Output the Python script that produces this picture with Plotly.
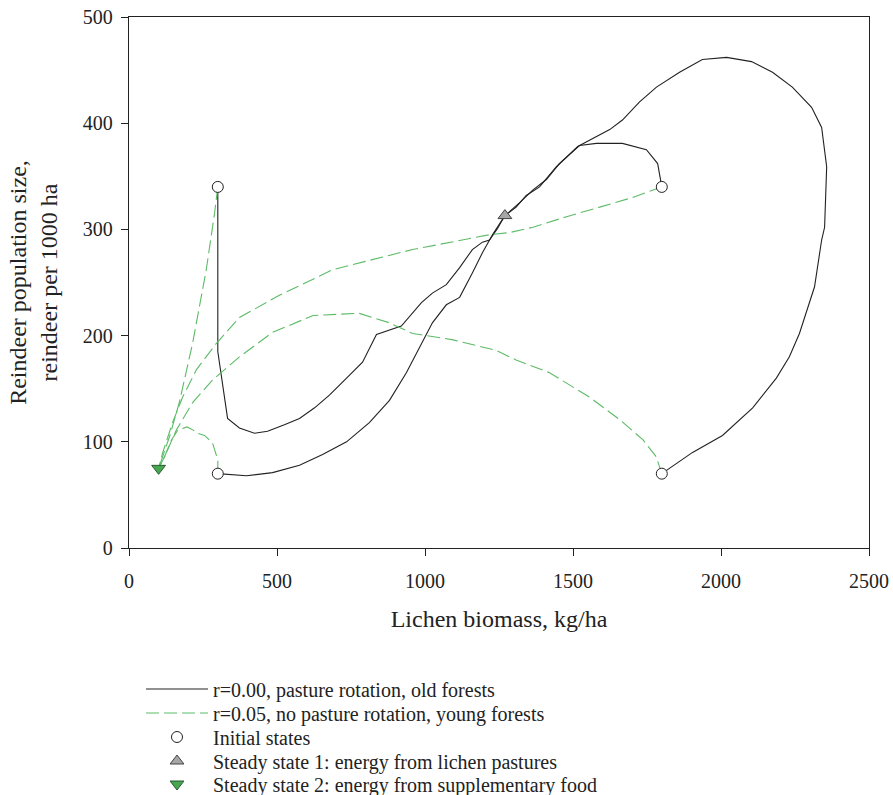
import plotly.graph_objects as go

# ---- data ----
# r=0.00, pasture rotation, old forests (four trajectories)
old1_x = [300, 300, 333, 373, 424, 468, 525, 576, 627, 677, 735, 789, 836, 920, 988, 1025, 1072, 1117, 1160, 1194, 1218, 1245, 1270]
old1_y = [340, 185, 122, 113, 108, 110, 116, 122, 132, 144, 160, 175, 201, 209, 231, 240, 248, 264, 281, 288, 290, 301, 313]
old2_x = [300, 397, 485, 576, 654, 735, 812, 880, 937, 991, 1025, 1072, 1117, 1160, 1194, 1228, 1245, 1270]
old2_y = [70, 68, 71, 78, 88, 100, 118, 139, 165, 193, 212, 229, 236, 259, 278, 295, 302, 313]
old3_x = [1800, 1904, 2005, 2107, 2187, 2231, 2265, 2316, 2340, 2350, 2357, 2340, 2306, 2241, 2174, 2103, 2019, 1937,
          1860, 1782, 1725, 1667, 1624, 1556, 1516, 1444, 1387, 1342, 1308, 1270]
old3_y = [70, 90, 106, 132, 160, 180, 202, 246, 290, 302, 359, 396, 415, 434, 448, 458, 462, 460,
          448, 434, 420, 403, 394, 384, 378, 359, 340, 332, 321, 313]
old4_x = [1800, 1786, 1748, 1667, 1579, 1522, 1454, 1410, 1364, 1319, 1270]
old4_y = [340, 362, 375, 381, 381, 379, 362, 347, 337, 325, 313]

# r=0.05, no pasture rotation, young forests (four trajectories)
young1_x = [300, 289, 261, 215, 170, 137, 110, 100]
young1_y = [340, 315, 262, 193, 137, 105, 83, 75]
young2_x = [1800, 1701, 1590, 1478, 1365, 1285, 1218, 1072, 958, 857, 688, 508, 373, 296, 228, 181, 147, 113, 100]
young2_y = [340, 330, 321, 312, 302, 297, 295, 287, 281, 274, 262, 238, 217, 193, 168, 142, 118, 89, 75]
young3_x = [300, 300, 282, 255, 232, 217, 196, 165, 144, 120, 100]
young3_y = [70, 83, 99, 106, 108, 111, 114, 111, 102, 86, 75]
young4_x = [1800, 1781, 1736, 1657, 1556, 1421, 1308, 1241, 1095, 958, 880, 777, 622, 485, 373, 282, 215, 160, 120, 100]
young4_y = [70, 86, 102, 121, 142, 165, 177, 186, 196, 202, 212, 221, 219, 203, 180, 158, 137, 111, 86, 75]

init_x = [300, 1800, 300, 1800]
init_y = [340, 340, 70, 70]
ss1_x = [1270]
ss1_y = [313]
ss2_x = [100]
ss2_y = [75]

x_ticks = [0, 500, 1000, 1500, 2000, 2500]
y_ticks = [0, 100, 200, 300, 400, 500]

legend_names = [
    "r=0.00, pasture rotation, old forests",
    "r=0.05, no pasture rotation, young forests",
    "Initial states",
    "Steady state 1: energy from lichen pastures",
    "Steady state 2: energy from supplementary food",
]


def join(*curves):
    xs, ys = [], []
    for cx, cy in curves:
        if xs:
            xs.append(None)
            ys.append(None)
        xs += cx
        ys += cy
    return xs, ys


ox, oy = join((old1_x, old1_y), (old2_x, old2_y), (old3_x, old3_y), (old4_x, old4_y))
yx, yy = join((young1_x, young1_y), (young2_x, young2_y), (young3_x, young3_y), (young4_x, young4_y))

GREEN = "#5cbb66"
INK = "#222222"
FONT = "Liberation Serif, Times New Roman, serif"

fig = go.Figure()
fig.add_trace(go.Scatter(x=ox, y=oy, mode="lines", name=legend_names[0], legend="legend",
                         line=dict(color=INK, width=1.1)))
fig.add_trace(go.Scatter(x=yx, y=yy, mode="lines", name=legend_names[1], legend="legend2",
                         line=dict(color=GREEN, width=1.1, dash="13px,5px")))
fig.add_trace(go.Scatter(x=init_x, y=init_y, mode="markers", name=legend_names[2], legend="legend3",
                         marker=dict(symbol="circle", size=11, color="white",
                                     line=dict(color=INK, width=1))))
fig.add_trace(go.Scatter(x=ss1_x, y=ss1_y, mode="markers", name=legend_names[3], legend="legend4",
                         marker=dict(symbol="triangle-up", size=12, color="#a6a6a6",
                                     line=dict(color="#444444", width=1))))
fig.add_trace(go.Scatter(x=ss2_x, y=ss2_y, mode="markers", name=legend_names[4], legend="legend5",
                         marker=dict(symbol="triangle-down", size=12, color="#45a851",
                                     line=dict(color="#2a5a30", width=1))))

W, H = 893, 795
# plot box edges in pixels (left, right, top, bottom)
BOX_L, BOX_R, BOX_T, BOX_B = 129, 869, 17, 548

axis_common = dict(showgrid=False, zeroline=False, showline=True, linecolor=INK, linewidth=1.3,
                   mirror=True, ticks="outside", ticklen=7, tickwidth=1.3, tickcolor=INK,
                   automargin=False,
                   tickfont=dict(family=FONT, size=20, color=INK))

# legend boxes: bottom edges (pixels from top), about 24 px apart
legend_bottoms_px = [708.5, 732.5, 756.5, 780.5, 803.5]
legend_left_px = 141


def legend_at(pb):
    return dict(x=legend_left_px / W, y=(H - pb) / H, xref="paper", yref="paper",
                xanchor="left", yanchor="bottom",
                font=dict(family=FONT, size=20, color=INK), itemwidth=62,
                bgcolor="rgba(0,0,0,0)", borderwidth=0)


fig.update_layout(
    width=W, height=H,
    margin=dict(l=0, r=0, t=0, b=0, autoexpand=False),
    paper_bgcolor="white", plot_bgcolor="white",
    font=dict(family=FONT, color=INK),
    xaxis=dict(range=[0, 2500], domain=[BOX_L / W, BOX_R / W],
               tickvals=x_ticks, ticktext=[str(v) for v in x_ticks],
               title=dict(text="Lichen biomass, kg/ha", font=dict(family=FONT, size=24), standoff=19),
               ticklabelstandoff=8, **axis_common),
    yaxis=dict(range=[0, 500], domain=[(H - BOX_B) / H, (H - BOX_T) / H],
               tickvals=y_ticks, ticktext=[str(v) for v in y_ticks],
               title=dict(text="Reindeer population size,<br>reindeer per 1000 ha",
                          font=dict(family=FONT, size=24), standoff=18),
               ticklabelstandoff=4, **axis_common),
    showlegend=True,
    legend=legend_at(legend_bottoms_px[0]),
    legend2=legend_at(legend_bottoms_px[1]),
    legend3=legend_at(legend_bottoms_px[2]),
    legend4=legend_at(legend_bottoms_px[3]),
    legend5=legend_at(legend_bottoms_px[4]),
)

# the default page body has an 8 px margin; remove it so the figure sits at the window origin
fig.write_html("out.html", config={"displayModeBar": False},
               post_script="document.body.style.margin='0px';")
